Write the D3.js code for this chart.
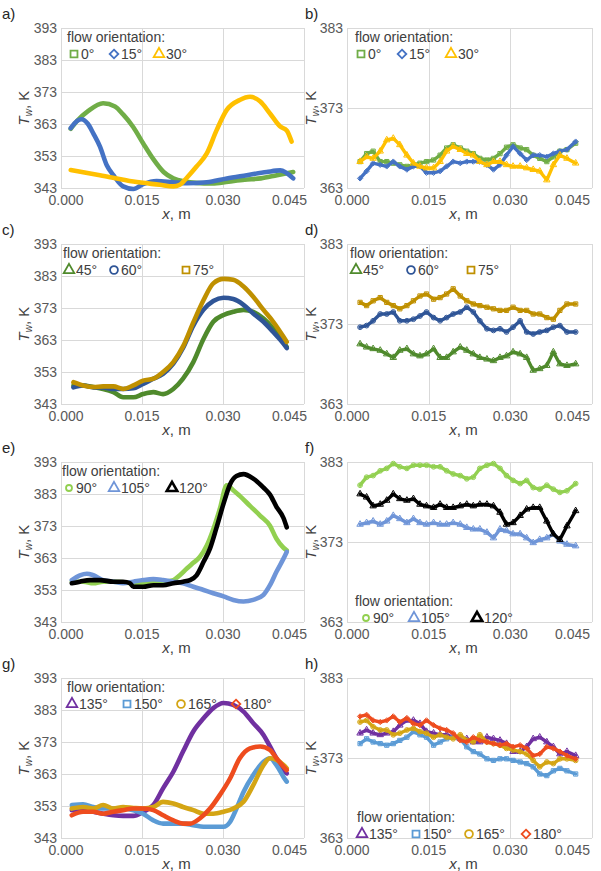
<!DOCTYPE html>
<meta charset="utf-8">
<style>
body { margin: 0; background: #fff; }
text { font-family: "Liberation Sans", Arial, sans-serif; }
.grid line { stroke: #d9d9d9; stroke-width: 1px; shape-rendering: crispEdges; }
.tick-label { font-size: 14px; fill: #595959; }
.legend-text { font-size: 14px; fill: #404040; }
.letter { font-size: 15px; fill: #262626; }
.axis-title { font-size: 15px; fill: #404040; }
</style>
<svg width="601" height="871"></svg>
<script src="https://d3js.org/d3.v7.min.js"></script>
<script>

// ---- axes ----
var xTicks = [0, 0.015, 0.030, 0.045];
var xTickLabels = ["0.000", "0.015", "0.030", "0.045"];
var yTicksLeft = [343, 353, 363, 373, 383, 393];
var yTicksRight = [363, 373, 383];

// ---- left column: [x, Tw] ----
var a0 = [[0.0018,361.5],[0.0030,364],[0.0050,367],[0.0078,369.5],[0.0100,368.5],[0.0115,366],[0.0134,362],[0.0152,357],[0.0171,352],[0.0190,348],[0.0208,346],[0.0230,345],[0.0250,344.6],[0.0280,344.4],[0.0310,345],[0.0340,345.6],[0.0370,346],[0.0400,347],[0.0430,348]];
var a15 = [[0.0018,361.7],[0.0030,364],[0.0038,364.5],[0.0050,363],[0.0060,360],[0.0072,356],[0.0085,350],[0.0097,347],[0.0115,343.5],[0.0134,342.7],[0.0152,344.2],[0.0177,345.2],[0.0208,344.8],[0.0233,344.5],[0.0270,344.8],[0.0307,346],[0.0344,347],[0.0381,348],[0.0406,348.5],[0.0430,346]];
var a30 = [[0.0018,348.6],[0.0072,347],[0.0134,345],[0.0183,344],[0.0208,343.5],[0.0220,344],[0.0233,346.2],[0.0251,349.7],[0.0270,353.8],[0.0288,361],[0.0307,367.4],[0.0331,370.5],[0.0350,371.5],[0.0369,370],[0.0387,366.3],[0.0406,362.2],[0.0418,361],[0.0427,357.5]];

var c45 = [[0.0023,348.8],[0.0041,348.8],[0.0060,348.3],[0.0078,347.7],[0.0097,346.7],[0.0115,345.1],[0.0134,345.1],[0.0152,346.1],[0.0171,346.7],[0.0189,346.1],[0.0208,347.7],[0.0226,350.9],[0.0245,356.1],[0.0264,363.4],[0.0282,368.7],[0.0301,370.8],[0.0319,371.8],[0.0338,372.4],[0.0356,371.8],[0.0375,369.7],[0.0393,366.6],[0.0412,362.4],[0.0418,360.8]];
var c60 = [[0.0023,348.2],[0.0041,348.8],[0.0060,348.2],[0.0078,348.2],[0.0097,347.7],[0.0115,347.7],[0.0134,347.9],[0.0152,349.3],[0.0171,350.9],[0.0189,352.4],[0.0208,355.6],[0.0226,360.5],[0.0245,367.5],[0.0264,372.5],[0.0282,375.2],[0.0301,376.2],[0.0319,375.8],[0.0338,374.0],[0.0356,371.3],[0.0375,368.7],[0.0393,365.5],[0.0412,361.9],[0.0418,360.5]];
var c75 = [[0.0023,349.8],[0.0041,348.8],[0.0060,348.3],[0.0078,348.5],[0.0097,348.5],[0.0115,347.7],[0.0134,348.8],[0.0152,350.3],[0.0171,350.9],[0.0189,353.0],[0.0208,356.1],[0.0226,361],[0.0245,368.5],[0.0264,375.5],[0.0282,380.7],[0.0301,382.1],[0.0319,381.8],[0.0338,379.7],[0.0356,376.5],[0.0375,372.4],[0.0393,368.7],[0.0412,364.0],[0.0418,362.4]];

var e90 = [[0.0020,355.6],[0.0041,355.6],[0.0060,355.1],[0.0078,355.6],[0.0097,355.6],[0.0115,355.4],[0.0134,355.1],[0.0152,355.1],[0.0171,355.4],[0.0189,355.6],[0.0208,356.1],[0.0220,357.6],[0.0233,359.7],[0.0245,361.5],[0.0257,363.3],[0.0270,366.9],[0.0282,372],[0.0294,378.3],[0.0307,385.7],[0.0319,384.2],[0.0331,382.4],[0.0350,379.3],[0.0369,376.2],[0.0387,373.1],[0.0399,369],[0.0412,366.2],[0.0418,365.4]];
var e105 = [[0.0020,356.1],[0.0035,357.6],[0.0048,358.1],[0.0060,357.6],[0.0078,356.1],[0.0097,355.6],[0.0115,355.1],[0.0134,355.6],[0.0152,356.1],[0.0171,356.4],[0.0189,356.1],[0.0208,355.6],[0.0226,355.1],[0.0245,354.0],[0.0264,353.0],[0.0282,352.0],[0.0301,351.0],[0.0319,349.9],[0.0338,349.4],[0.0356,349.9],[0.0375,351.5],[0.0387,354.5],[0.0399,358.7],[0.0412,362.8],[0.0418,364.9]];
var e120 = [[0.0020,355.1],[0.0035,355.6],[0.0054,356.1],[0.0072,356.1],[0.0097,355.6],[0.0115,355.6],[0.0128,355.1],[0.0134,354.0],[0.0152,354.0],[0.0171,354.5],[0.0189,354.5],[0.0208,355.1],[0.0226,355.6],[0.0239,356.1],[0.0251,357.6],[0.0264,361.8],[0.0276,366],[0.0288,372.5],[0.0301,380],[0.0313,386],[0.0325,388.6],[0.0338,389.2],[0.0356,387.8],[0.0375,385],[0.0387,382.8],[0.0399,379],[0.0412,375.5],[0.0418,372.6]];

var g135 = [[0.0020,351.7],[0.0041,351.7],[0.0060,351.2],[0.0078,350.6],[0.0097,350.1],[0.0115,349.9],[0.0134,349.9],[0.0152,351.2],[0.0171,353.3],[0.0189,358.5],[0.0208,363.7],[0.0226,370.0],[0.0245,376.3],[0.0264,380.4],[0.0282,383.6],[0.0301,385.2],[0.0319,384.6],[0.0338,382.5],[0.0356,378.9],[0.0375,375.2],[0.0387,371.6],[0.0399,367.9],[0.0412,364.2],[0.0418,363.2]];
var g150 = [[0.0020,353.3],[0.0041,353.5],[0.0060,352.7],[0.0078,352.2],[0.0097,352.2],[0.0115,352.2],[0.0134,351.7],[0.0152,350.6],[0.0171,348.5],[0.0189,347.5],[0.0208,347.5],[0.0226,347.5],[0.0245,347.0],[0.0264,346.5],[0.0282,346.5],[0.0301,346.5],[0.0313,348.0],[0.0325,352.2],[0.0338,357.4],[0.0356,362.7],[0.0375,366.8],[0.0387,367.9],[0.0399,365.8],[0.0412,362.1],[0.0418,360.6]];
var g165 = [[0.0020,352.2],[0.0041,352.7],[0.0060,352.2],[0.0078,353.3],[0.0097,352.2],[0.0115,352.7],[0.0134,352.4],[0.0152,352.2],[0.0171,352.7],[0.0189,354.3],[0.0208,353.8],[0.0226,352.7],[0.0245,351.7],[0.0264,350.6],[0.0282,350.6],[0.0301,351.2],[0.0319,352.2],[0.0338,354.3],[0.0356,359.5],[0.0375,365.8],[0.0387,367.9],[0.0399,367.4],[0.0412,365.8],[0.0418,364.8]];
var g180 = [[0.0020,350.1],[0.0041,351.2],[0.0060,351.2],[0.0078,350.6],[0.0097,351.2],[0.0115,351.7],[0.0134,352.2],[0.0152,352.2],[0.0171,351.7],[0.0189,350.1],[0.0208,348.5],[0.0226,347.5],[0.0239,347.5],[0.0257,349.1],[0.0276,352.2],[0.0294,356.4],[0.0313,361.6],[0.0331,367.9],[0.0350,371.0],[0.0369,371.6],[0.0387,370.5],[0.0399,367.9],[0.0412,365.3],[0.0418,364.2]];

// ---- right column: common x positions, Tw per series ----
var xRight = [0.0024,0.0036,0.0048,0.0061,0.0073,0.0085,0.0097,0.0110,0.0122,0.0134,0.0146,0.0159,0.0171,0.0183,0.0195,0.0208,0.0220,0.0232,0.0244,0.0257,0.0269,0.0281,0.0293,0.0305,0.0318,0.0330,0.0342,0.0354,0.0367,0.0379,0.0391,0.0404,0.0420];

var b0 = [366.3,367.3,367.6,366.3,366.3,366.1,365.9,365.7,365.9,366.1,366.3,366.5,367.1,368.0,368.4,368.0,367.6,367.3,366.7,366.5,366.7,367.3,368.1,368.4,368.0,367.8,367.1,366.7,366.3,366.9,367.6,367.8,368.6];
var b15 = [364.2,365.1,366.1,365.9,365.7,366.3,365.7,365.3,365.7,365.7,364.9,364.9,365.1,365.7,366.3,366.1,366.3,366.3,366.3,365.9,365.3,365.9,367.1,368.2,367.3,366.5,367.1,367.1,366.9,367.3,367.6,367.8,368.8];
var b30 = [366.3,366.9,366.7,367.6,369.0,369.2,368.4,367.1,366.1,365.7,365.5,365.5,366.3,367.6,368.2,367.8,367.3,367.1,366.3,365.9,366.3,366.3,365.9,365.7,365.7,365.5,365.3,365.1,364.0,365.9,367.1,366.7,366.1];

var d45 = [370.5,370.1,369.9,369.7,369.25,368.8,369.7,369.9,369.25,369.0,369.25,369.9,368.8,368.8,369.5,370.1,369.7,369.25,368.8,368.6,368.4,368.8,369.0,369.5,369.25,368.8,367.2,367.4,367.8,369.5,368.0,367.8,368.0];
var d60 = [372.6,372.8,373.4,374.25,374.25,374.5,373.4,373.4,373.6,374.0,374.5,373.8,373.4,373.8,374.25,374.5,375.1,374.5,373.4,372.4,372.2,372.4,372.0,372.6,373.4,372.0,371.75,372.0,372.2,372.6,372.8,372.0,372.0];
var d75 = [375.7,375.3,375.9,376.3,375.7,375.3,374.9,375.3,375.9,376.5,376.75,376.1,376.3,376.75,377.4,376.5,375.9,375.5,375.3,375.1,374.9,374.7,374.7,375.1,374.7,374.7,374.25,374.25,373.8,373.6,374.7,375.5,375.5];

var f90 = [380.1,381.1,381.3,381.9,382.2,382.8,382.4,382.2,382.6,382.6,382.6,382.4,382.4,381.9,381.5,381.3,380.9,381.1,382.2,382.6,382.8,382.2,381.3,380.7,380.3,380.7,379.8,379.6,380.1,379.6,379.2,379.4,380.3];
var f105 = [375.2,375.4,375.6,375.2,375.6,376.3,375.9,375.4,375.9,375.4,375.2,375.4,375.2,375.2,375.4,375.2,374.8,374.6,374.6,374.2,373.5,374.6,374.4,374.0,374.0,373.5,372.9,373.3,373.5,374.0,373.1,372.7,372.5];
var f120 = [379.0,378.6,377.5,377.7,378.2,379.0,378.4,378.2,378.4,377.7,377.5,377.3,377.7,377.3,377.3,377.5,377.7,377.5,377.7,377.7,377.5,376.7,375.2,375.4,376.3,377.1,377.3,377.3,375.6,374.0,373.3,375.0,376.9];

var h135 = [376.1,376.5,376.1,375.9,376.1,376.3,377.1,377.7,377.7,377.3,376.3,376.1,375.9,375.9,375.6,375.4,375.4,375.0,375.0,375.6,375.4,375.2,374.8,373.8,373.8,374.4,375.4,375.6,375.0,374.4,373.5,373.8,373.3];
var h150 = [374.8,375.4,375.0,374.8,374.6,374.8,375.2,375.6,376.3,375.9,375.6,374.6,375.0,375.4,375.6,375.4,374.4,373.8,373.5,372.9,372.7,372.9,372.9,372.7,372.5,372.3,371.9,371.0,370.8,371.4,371.7,371.4,371.0];
var h165 = [377.5,377.7,376.9,376.5,376.5,375.9,376.1,376.5,376.7,376.3,376.1,375.6,375.9,375.6,375.4,375.9,375.2,375.0,375.9,375.0,374.8,374.6,374.2,374.0,373.8,373.5,372.7,371.9,372.5,372.3,372.9,372.9,372.7];
var h180 = [378.2,378.4,377.7,377.5,377.7,378.2,377.5,378.0,377.3,377.1,377.7,377.1,376.7,376.5,376.1,375.2,375.0,375.6,375.2,375.0,374.8,374.6,374.8,374.4,374.6,374.2,373.3,373.5,374.4,374.2,373.8,373.3,372.9];

// ---- series styles ----
var colors = {
  "0°": "#70ad47", "15°": "#4472c4", "30°": "#ffc000",
  "45°": "#4f8a2c", "60°": "#2f5597", "75°": "#bf9000",
  "90°": "#92d050", "105°": "#6f95d8", "120°": "#000000",
  "135°": "#7030a0", "150°": "#5b9bd5", "165°": "#d4a514", "180°": "#ee4c1e"
};
var symbols = {
  "0°": d3.symbolSquare, "15°": d3.symbolDiamond2, "30°": d3.symbolTriangle,
  "45°": d3.symbolTriangle, "60°": d3.symbolCircle, "75°": d3.symbolSquare,
  "90°": d3.symbolCircle, "105°": d3.symbolTriangle, "120°": d3.symbolTriangle,
  "135°": d3.symbolTriangle, "150°": d3.symbolSquare, "165°": d3.symbolCircle, "180°": d3.symbolDiamond2
};

function zipRight(ts) { return ts.map(function(t, i) { return [xRight[i], t]; }); }

// layout of the 2 x 4 grid
var colLeft = [61, 347], colWidth = [243, 245];
var rowTop = [28, 244, 462, 678], rowHeight = 160;

var panels = [
  {letter: "a)", col: 0, row: 0, legend: "top", titleDx: 6, itemDx: [9, 49, 94],
   series: [["0°", a0], ["15°", a15], ["30°", a30]]},
  {letter: "b)", col: 1, row: 0, legend: "top", titleDx: 8, itemDx: [10, 51, 100],
   series: [["0°", zipRight(b0)], ["15°", zipRight(b15)], ["30°", zipRight(b30)]]},
  {letter: "c)", col: 0, row: 1, legend: "top", titleDx: 2, itemDx: [4, 49, 121],
   series: [["45°", c45], ["60°", c60], ["75°", c75]]},
  {letter: "d)", col: 1, row: 1, legend: "top", titleDx: 3, itemDx: [5, 60, 120],
   series: [["45°", zipRight(d45)], ["60°", zipRight(d60)], ["75°", zipRight(d75)]]},
  {letter: "e)", col: 0, row: 2, legend: "top", titleDx: 1, itemDx: [4, 49, 107],
   series: [["90°", e90], ["105°", e105], ["120°", e120]]},
  {letter: "f)", col: 1, row: 2, legend: "bottom", titleDx: 8, itemDx: [15, 63, 126],
   series: [["90°", zipRight(f90)], ["105°", zipRight(f105)], ["120°", zipRight(f120)]]},
  {letter: "g)", col: 0, row: 3, legend: "top", titleDx: 6, itemDx: [7, 62, 116, 171],
   series: [["135°", g135], ["150°", g150], ["165°", g165], ["180°", g180]]},
  {letter: "h)", col: 1, row: 3, legend: "bottom", titleDx: 10, itemDx: [11, 65, 118, 175],
   series: [["135°", zipRight(h135)], ["150°", zipRight(h150)], ["165°", zipRight(h165)], ["180°", zipRight(h180)]]}
];

var svg = d3.select("svg");
svg.append("rect").attr("width", 601).attr("height", 871).attr("fill", "#fff");

panels.forEach(function(p) {
  var left = colLeft[p.col], width = colWidth[p.col];
  var top = rowTop[p.row], bottom = top + rowHeight;
  var isRight = p.col === 1;
  var yTicks = isRight ? yTicksRight : yTicksLeft;

  var x = d3.scaleLinear().domain([0, 0.045]).range([left, left + width]);
  var y = d3.scaleLinear().domain(d3.extent(yTicks)).range([bottom, top]);

  var g = svg.append("g");

  // grid
  var grid = g.append("g").attr("class", "grid");
  grid.selectAll(".h").data(yTicks).enter().append("line")
      .attr("x1", left).attr("x2", left + width)
      .attr("y1", function(d) { return Math.round(y(d)) + 0.5; })
      .attr("y2", function(d) { return Math.round(y(d)) + 0.5; });
  grid.selectAll(".v").data(xTicks).enter().append("line")
      .attr("x1", function(d) { return Math.round(x(d)) + 0.5; })
      .attr("x2", function(d) { return Math.round(x(d)) + 0.5; })
      .attr("y1", top).attr("y2", bottom);

  // tick labels (end labels pulled in so they stay inside the column)
  g.selectAll(".yl").data(yTicks).enter().append("text")
      .attr("class", "tick-label")
      .attr("x", left - 4).attr("y", function(d) { return y(d); })
      .attr("dy", "0.35em").attr("text-anchor", "end")
      .text(function(d) { return d; });
  g.selectAll(".xl").data(xTicks).enter().append("text")
      .attr("class", "tick-label")
      .attr("x", function(d, i) {
        if (i === 0) return x(d) + 5;
        if (i === xTicks.length - 1) return x(d) + (isRight ? -2 : 3);
        return x(d);
      })
      .attr("y", bottom + 17)
      .attr("text-anchor", function(d, i) { return i === xTicks.length - 1 ? "end" : "middle"; })
      .text(function(d, i) { return xTickLabels[i]; });

  // axis titles
  var xt = g.append("text").attr("class", "axis-title")
      .attr("x", left + width / 2 - 6).attr("y", bottom + 31).attr("text-anchor", "middle");
  xt.append("tspan").attr("font-style", "italic").text("x");
  xt.append("tspan").text(", m");

  var yt = g.append("text").attr("class", "axis-title")
      .attr("transform", "translate(" + (left - (isRight ? 31 : 32)) + "," + (top + rowHeight / 2) + ") rotate(-90)")
      .attr("text-anchor", "middle");
  yt.append("tspan").attr("font-style", "italic").text("T");
  yt.append("tspan").attr("font-style", "italic").attr("font-size", "10px").attr("dy", 3).text("w");
  yt.append("tspan").attr("dy", -3).text(", K");

  g.append("text").attr("class", "letter")
      .attr("x", isRight ? left - 42 : 2).attr("y", top - 9).text(p.letter);

  // series
  var line = d3.line()
      .x(function(d) { return x(d[0]); })
      .y(function(d) { return y(d[1]); })
      .curve(isRight ? d3.curveLinear : d3.curveMonotoneX);

  p.series.forEach(function(s) {
    var name = s[0], data = s[1], col = colors[name];
    g.append("path").datum(data)
        .attr("d", line)
        .attr("fill", "none").attr("stroke", col)
        .attr("stroke-width", isRight ? 3.4 : 4.6)
        .attr("stroke-linejoin", "round").attr("stroke-linecap", "round");
    if (isRight) {
      g.selectAll(null).data(data).enter().append("path")
          .attr("transform", function(d) { return "translate(" + x(d[0]) + "," + y(d[1]) + ")"; })
          .attr("d", d3.symbol().type(symbols[name]).size(18))
          .attr("fill", "none").attr("stroke", col).attr("stroke-width", 1);
    }
  });

  // legend
  var titleY = p.legend === "top" ? top + 14 : bottom - 16;
  var itemY = p.legend === "top" ? top + 31 : bottom + 1;
  g.append("text").attr("class", "legend-text")
      .attr("x", left + p.titleDx).attr("y", titleY).text("flow orientation:");
  p.series.forEach(function(s, i) {
    var name = s[0], col = colors[name];
    var mx = left + p.itemDx[i] + 4;
    var small = name === "90°";
    g.append("path")
        .attr("transform", "translate(" + mx + "," + (itemY - 5) + ")")
        .attr("d", d3.symbol().type(symbols[name]).size(small ? 28 : 48))
        .attr("fill", "none").attr("stroke", col)
        .attr("stroke-width", name === "120°" ? 2.6 : 1.8);
    g.append("text").attr("class", "legend-text")
        .attr("x", mx + 7).attr("y", itemY).text(name);
  });
});

</script>
